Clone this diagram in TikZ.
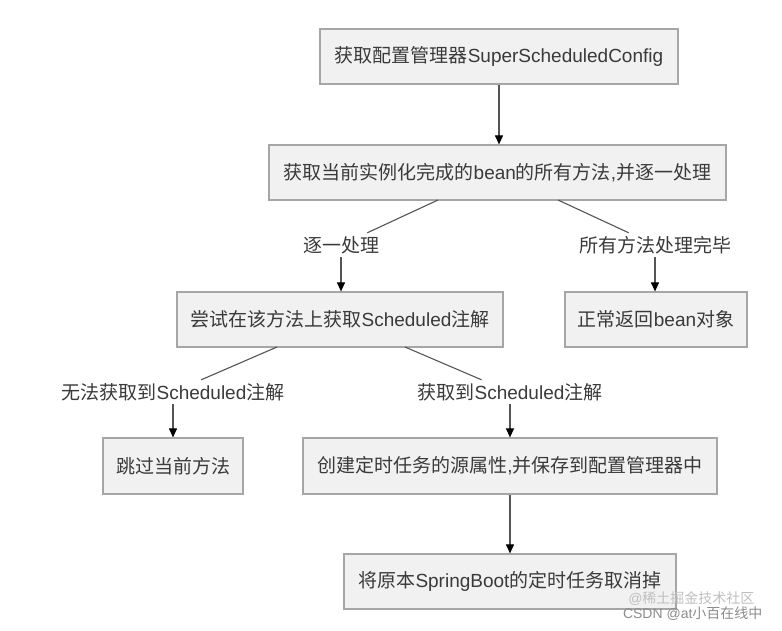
\documentclass[tikz,border=0pt]{standalone}
\usepackage{fontspec}
\setmainfont{Liberation Sans}
\newfontfamily\cjk{Noto Sans CJK SC}
\newcommand{\zh}[1]{{\cjk #1}}
\usetikzlibrary{arrows.meta}
\definecolor{boxfill}{HTML}{F1F1F1}
\definecolor{boxline}{HTML}{A6A6A6}
\definecolor{txt}{HTML}{3A3A3A}
\definecolor{conn}{HTML}{555555}
\begin{document}
\begin{tikzpicture}[x=1pt,y=-1pt,
  stepbox/.style={draw=boxline,fill=boxfill,line width=1.2pt,rectangle,inner sep=0pt,
    text=txt,font=\fontsize{19}{19}\selectfont},
  lab/.style={rectangle,inner sep=0pt,minimum height=24pt,text=txt,font=\fontsize{19}{19}\selectfont},
  conline/.style={draw=conn,line width=1.1pt},
  arr/.style={conline,-{Triangle[width=8pt,length=9pt,fill=black,color=black]}},
  wm/.style={font=\fontsize{14}{14}\selectfont}
]
\useasboundingbox[fill=white] (0,0) rectangle (782,631);

\node[stepbox,minimum width=358pt,minimum height=55pt] (b1) at (499,56.5) {\zh{获取配置管理器}SuperScheduledConfig};
\node[stepbox,minimum width=457pt,minimum height=55pt] (b2) at (497.5,172.5) {\zh{获取当前实例化完成的}bean\zh{的所有方法},\zh{并逐一处理}};
\node[stepbox,minimum width=326pt,minimum height=55pt] (b3) at (340,319.5) {\zh{尝试在该方法上获取}Scheduled\zh{注解}};
\node[stepbox,minimum width=182pt,minimum height=55pt] (b4) at (656,319.5) {\zh{正常返回}bean\zh{对象}};
\node[stepbox,minimum width=140pt,minimum height=56pt] (b5) at (173,466) {\zh{跳过当前方法}};
\node[stepbox,minimum width=414pt,minimum height=56pt] (b6) at (510,466) {\zh{创建定时任务的源属性},\zh{并保存到配置管理器中}};
\node[stepbox,minimum width=332pt,minimum height=55pt] (b7) at (510,581.5) {\zh{将原本}SpringBoot\zh{的定时任务取消掉}};

\node[lab] (l1) at (341,245) {\zh{逐一处理}};
\node[lab] (l2) at (655,245) {\zh{所有方法处理完毕}};
\node[lab] (l3) at (173,392) {\zh{无法获取到}Scheduled\zh{注解}};
\node[lab] (l4) at (510,392) {\zh{获取到}Scheduled\zh{注解}};

\coordinate (s1) at (438,200);
\coordinate (s2) at (558,200);
\coordinate (s3) at (277,347);
\coordinate (s4) at (405,347);

\draw[arr] (b1.south -| 499,0) -- (b2.north -| 499,0);
\draw[conline] (s1) -- (l1);
\draw[arr] (l1) -- (l1 |- b3.north);
\draw[conline] (s2) -- (l2);
\draw[arr] (l2) -- (l2 |- b4.north);
\draw[conline] (s3) -- (l3);
\draw[arr] (l3) -- (b5);
\draw[conline] (s4) -- (l4);
\draw[arr] (l4) -- (b6);
\draw[arr] (b6) -- (b7);

\node[wm,text=black!25,anchor=east] (w1) at (758,599) {@\zh{稀土掘金技术社区}};
\node[wm,text=black!45,anchor=east] (w2) at (766,614) {CSDN @at\zh{小百在线中}};
\end{tikzpicture}
\end{document}
